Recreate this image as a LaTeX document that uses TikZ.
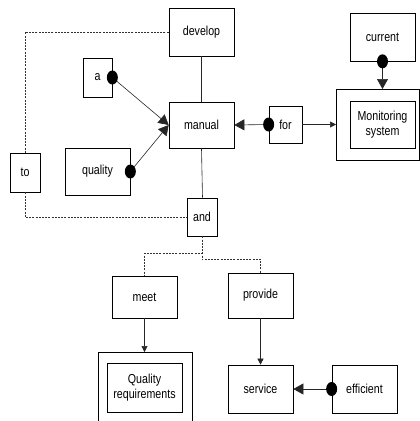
\documentclass[tikz,border=0pt]{standalone}
\usepackage{fontspec}
\setmainfont{Liberation Sans}[FakeStretch=0.82]
\usepackage{tikz, xcolor}
\usetikzlibrary{arrows.meta}
\newcommand{\unitsize}{1pt}
\newcommand{\blob}[1]{\fill #1 ellipse [x radius=5.5pt, y radius=7pt];}

\begin{document}
\begin{tikzpicture}[x=\unitsize,y=-\unitsize]
\useasboundingbox (0,0) rectangle (420,421);
\tikzstyle{every node}=[draw,
                        rectangle,
                        fill=white,
                        line width=0.7pt,
                        inner sep=0pt,
                        align=center,
                        font=\fontsize{13}{14.5}\selectfont
                        ]
\tikzstyle{link}=[black!85, line width=0.6pt]
\tikzstyle{dots}=[black!80, line width=0.6pt, dash pattern=on 2pt off 1.2pt]
\tikzstyle{big}=[link, -{Triangle[length=10*\unitsize,width=11*\unitsize]}]
\tikzstyle{small}=[link, -{Triangle[length=6*\unitsize,width=6*\unitsize]}]
% outer frames
\draw[line width=0.7pt] (336,89) rectangle (419,160);
\draw[line width=0.7pt] (98,352) -- (98,424) (98,352) -- (192,352) -- (192,424);
% boxes
\node[minimum width=65, minimum height=48] (develop) at (201.5,32) {develop};
\node[minimum width=29, minimum height=39] (a) at (97.5,77.5) {a};
\node[minimum width=65, minimum height=46] (manual) at (201.5,125) {manual};
\node[minimum width=65, minimum height=47] (quality) at (97.5,171.5) {quality};
\node[minimum width=30, minimum height=39] (to) at (25,172.5) {to};
\node[minimum width=30, minimum height=38] (and) at (202,217) {and};
\node[minimum width=33, minimum height=37] (for) at (285.5,124.5) {for};
\node[minimum width=65, minimum height=48] (current) at (382.5,37) {current};
\node[minimum width=65, minimum height=47] (monitoring) at (382.5,124.5) {Monitoring\\system};
\node[minimum width=65, minimum height=42] (meet) at (144.5,297) {meet};
\node[minimum width=75, minimum height=49] (qualreq) at (144.5,387.5) {Quality\\requirements};
\node[minimum width=65, minimum height=45] (provide) at (260.5,295.5) {provide};
\node[minimum width=65, minimum height=48] (service) at (260.5,389) {service};
\node[minimum width=65, minimum height=48] (efficient) at (364.5,389) {efficient};
% solid links
\draw[link] (develop.south) -- (manual.north);
\draw[link] (manual.south) -- ([xshift=0.5]and.north);
\draw[big] (a.east) -- (manual.west);
\draw[big] (quality.east) -- (manual.west);
\draw[big] (for.west) -- (manual.east);
\draw[small] (for.east) -- (336,124.5);
\draw[big] (current.south) -- (382.5,89);
\draw[small] (meet.south) -- (144.5,352);
\draw[small] (provide.south) -- (service.north);
\draw[big] (efficient.west) -- (service.east);
% dotted links
\draw[dots] (develop.west) -| (to.north);
\draw[dots] (to.south) |- (and.west);
\draw[dots] (and.south) -- ++(0,17) -| (meet.north);
\draw[dots] (and.south) -- ++(0,23) -| (provide.north);
% dots
\blob{(a.east)}
\blob{(quality.east)}
\blob{(for.west)}
\blob{(current.south)}
\blob{(efficient.west)}
\end{tikzpicture}
\end{document}
